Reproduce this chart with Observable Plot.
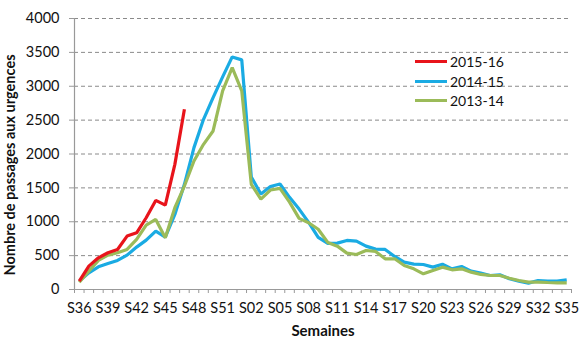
<!DOCTYPE html>
<html>
<head>
<meta charset="utf-8">
<script src="https://cdn.jsdelivr.net/npm/d3@7"></script>
<script src="https://cdn.jsdelivr.net/npm/@observablehq/plot@0.6"></script>
<style>
  html, body { margin: 0; padding: 0; background: #fff; }
  #wrap { position: relative; width: 582px; height: 354px; font-family: Lato, "Open Sans", sans-serif; }
  .legend { position: absolute; left: 415px; top: 52px; font-size: 14px; color: #111; line-height: 19.5px; }
  .legend div { display: flex; align-items: center; }
  .legend span.sw { display: inline-block; width: 32px; height: 3px; margin-right: 3px; }
</style>
</head>
<body>
<div id="wrap"></div>
<script>
const weeks = ["S36","S37","S38","S39","S40","S41","S42","S43","S44","S45","S46","S47","S48","S49","S50","S51","S52",
  "S01","S02","S03","S04","S05","S06","S07","S08","S09","S10","S11","S12","S13","S14","S15","S16","S17","S18","S19",
  "S20","S21","S22","S23","S24","S25","S26","S27","S28","S29","S30","S31","S32","S33","S34","S35"];
const seriesNames = ["2015-16", "2014-15", "2013-14"];
const seriesColors = ["#e8141b", "#1aabe3", "#9bbb59"];
const v2015 = [123, 345, 468, 542, 591, 788, 837, 1059, 1315, 1246, 1847, 2660];
const v2014 = [123, 246, 335, 384, 429, 507, 626, 729, 862, 773, 1108, 1552, 2094, 2512, 2833, 3138, 3433, 3389,
  1660, 1410, 1520, 1557, 1360, 1187, 990, 768, 680, 685, 724, 714, 640, 596, 591, 488, 404, 374, 369, 330, 374, 305,
  340, 271, 241, 207, 217, 158, 123, 94, 133, 123, 123, 143];
const v2013 = [108, 271, 429, 507, 542, 591, 739, 951, 1034, 764, 1207, 1527, 1897, 2143, 2340, 2931, 3276, 2931,
  1552, 1335, 1468, 1493, 1290, 1050, 985, 890, 695, 640, 537, 517, 576, 562, 453, 453, 355, 305, 231, 281, 330, 291,
  305, 256, 222, 207, 207, 167, 133, 108, 108, 103, 99, 99];
const yTicks = [0, 500, 1000, 1500, 2000, 2500, 3000, 3500, 4000];
const labelEvery = 3;

const valuesList = [v2015, v2014, v2013];
const rows = [];
valuesList.forEach((vals, s) => vals.forEach((v, i) => rows.push({i, week: weeks[i], value: v, series: seriesNames[s]})));

const labelIdx = weeks.map((w, i) => i).filter(i => i % labelEvery === 0);
const boundaries = d3.range(weeks.length + 1).map(i => i - 0.5);
const font = "Lato, 'Open Sans', sans-serif";

const drawOrder = ["2014-15", "2013-14", "2015-16"];

const chart = Plot.plot({
  width: 582,
  height: 354,
  marginLeft: 74,
  marginRight: 11,
  marginTop: 18,
  marginBottom: 65,
  style: {fontFamily: font, fontSize: "14px", color: "#111", background: "white"},
  x: {type: "linear", domain: [-0.5, weeks.length - 0.5], axis: null},
  y: {domain: [0, 4000], axis: null},
  marks: [
    Plot.gridY(yTicks.filter(d => d > 0), {stroke: "#8a8a8a", strokeOpacity: 1, strokeDasharray: "4,3"}),
    Plot.axisY(yTicks, {tickSize: 5, tickPadding: 10, stroke: "#999", fontSize: 14.5, label: null, fill: "#111",
      tickFormat: d => String(d)}),
    Plot.axisX(boundaries, {tickSize: 4, tickFormat: () => "", stroke: "#999", label: null}),
    Plot.axisX(labelIdx, {tickSize: 0, tickPadding: 13, tickFormat: i => weeks[i], fontSize: 14.5, fill: "#111",
      label: "Semaines", labelAnchor: "center", labelOffset: 46, labelArrow: "none"}),
    Plot.ruleY([0], {stroke: "#999", strokeWidth: 1.2}),
    Plot.ruleX([-0.5], {stroke: "#999", strokeWidth: 1.2}),
    ...drawOrder.map(name => Plot.line(rows.filter(r => r.series === name), {
      x: "i", y: "value", stroke: seriesColors[seriesNames.indexOf(name)], strokeWidth: 3.2,
      strokeLinejoin: "miter", strokeLinecap: "butt"
    }))
  ]
});

d3.select(chart).selectAll("text").filter(function() { return this.textContent === "Semaines"; })
  .attr("font-weight", "bold").attr("font-size", 15);

d3.select(chart).append("text")
  .attr("transform", "translate(15,165) rotate(-90)")
  .attr("text-anchor", "middle")
  .attr("font-family", font)
  .attr("font-weight", "bold")
  .attr("font-size", 14.5)
  .attr("fill", "#111")
  .text("Nombre de passages aux urgences");

const wrap = document.getElementById("wrap");
wrap.appendChild(chart);

const legend = document.createElement("div");
legend.className = "legend";
seriesNames.forEach((n, k) => {
  const row = document.createElement("div");
  const sw = document.createElement("span");
  sw.className = "sw";
  sw.style.background = seriesColors[k];
  row.appendChild(sw);
  row.appendChild(document.createTextNode(n));
  legend.appendChild(row);
});
wrap.appendChild(legend);
</script>
</body>
</html>
